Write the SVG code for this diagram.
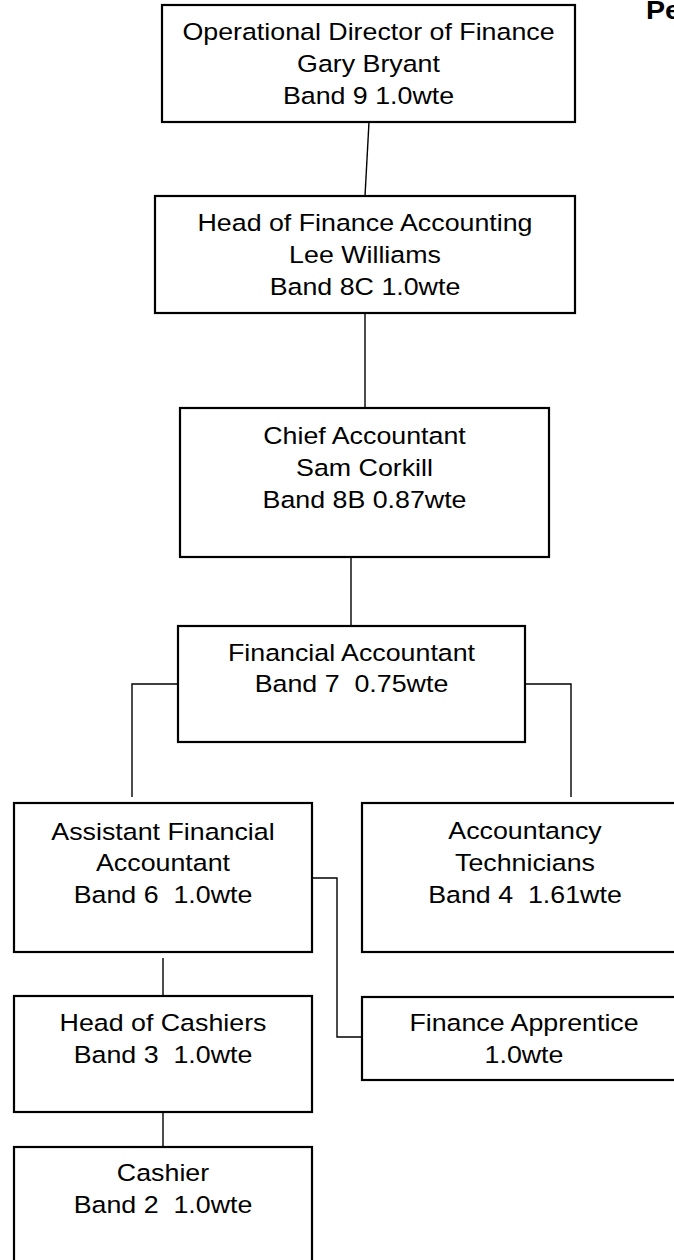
<svg xmlns="http://www.w3.org/2000/svg" width="674" height="1260" viewBox="0 0 674 1260">
<style>
.box{fill:#fff;stroke:#000;stroke-width:2.2}
.con{fill:none;stroke:#000;stroke-width:1.4}
.t{font-family:"Liberation Sans",Arial,sans-serif;font-size:23.3px;fill:#000;text-anchor:middle;white-space:pre}
.title{font-family:"Liberation Sans",Arial,sans-serif;font-size:26px;font-weight:bold;fill:#000}
</style>
<rect width="674" height="1260" fill="#fff"/>
<text class="title" x="0" y="19" transform="translate(646 0) scale(1.1 1)">Pe</text>
<g id="connectors">
<line class="con" x1="369" y1="122" x2="365" y2="196"/>
<line class="con" x1="365" y1="313" x2="365" y2="408"/>
<line class="con" x1="351" y1="557" x2="351" y2="626"/>
<polyline class="con" points="178,684 132,684 132,797"/>
<polyline class="con" points="525,684 571,684 571,797"/>
<polyline class="con" points="312,878 337,878 337,1037 362,1037"/>
<line class="con" x1="163" y1="958" x2="163" y2="996"/>
<line class="con" x1="163" y1="1112" x2="163" y2="1147"/>
</g>
<g id="n1">
<rect class="box" x="162" y="5" width="413" height="117"/>
<g transform="translate(368.5 0) scale(1.15 1)">
<text class="t" x="0" y="40.5">Operational Director of Finance</text>
<text class="t" x="0" y="72.5">Gary Bryant</text>
<text class="t" x="0" y="104.5">Band 9 1.0wte</text>
</g>
</g>
<g id="n2">
<rect class="box" x="155" y="196" width="420" height="117"/>
<g transform="translate(365 0) scale(1.15 1)">
<text class="t" x="0" y="231">Head of Finance Accounting</text>
<text class="t" x="0" y="263">Lee Williams</text>
<text class="t" x="0" y="295">Band 8C 1.0wte</text>
</g>
</g>
<g id="n3">
<rect class="box" x="180" y="408" width="369" height="149"/>
<g transform="translate(364.5 0) scale(1.15 1)">
<text class="t" x="0" y="444">Chief Accountant</text>
<text class="t" x="0" y="476">Sam Corkill</text>
<text class="t" x="0" y="508">Band 8B 0.87wte</text>
</g>
</g>
<g id="n4">
<rect class="box" x="178" y="626" width="347" height="116"/>
<g transform="translate(351.5 0) scale(1.15 1)">
<text class="t" x="0" y="661">Financial Accountant</text>
<text class="t" x="0" y="692.5">Band 7  0.75wte</text>
</g>
</g>
<g id="n5">
<rect class="box" x="14" y="803" width="298" height="149"/>
<g transform="translate(163 0) scale(1.15 1)">
<text class="t" x="0" y="840.5">Assistant Financial</text>
<text class="t" x="0" y="871.5">Accountant</text>
<text class="t" x="0" y="903">Band 6  1.0wte</text>
</g>
</g>
<g id="n6">
<rect class="box" x="362" y="803" width="326" height="149"/>
<g transform="translate(525 0) scale(1.15 1)">
<text class="t" x="0" y="839">Accountancy</text>
<text class="t" x="0" y="871">Technicians</text>
<text class="t" x="0" y="903">Band 4  1.61wte</text>
</g>
</g>
<g id="n7">
<rect class="box" x="362" y="997" width="326" height="83"/>
<g transform="translate(524 0) scale(1.15 1)">
<text class="t" x="0" y="1031.5">Finance Apprentice</text>
<text class="t" x="0" y="1063">1.0wte</text>
</g>
</g>
<g id="n8">
<rect class="box" x="14" y="996" width="298" height="116"/>
<g transform="translate(163 0) scale(1.15 1)">
<text class="t" x="0" y="1031">Head of Cashiers</text>
<text class="t" x="0" y="1063">Band 3  1.0wte</text>
</g>
</g>
<g id="n9">
<rect class="box" x="14" y="1147" width="298" height="133"/>
<g transform="translate(163 0) scale(1.15 1)">
<text class="t" x="0" y="1181.5">Cashier</text>
<text class="t" x="0" y="1213.5">Band 2  1.0wte</text>
</g>
</g>
</svg>
